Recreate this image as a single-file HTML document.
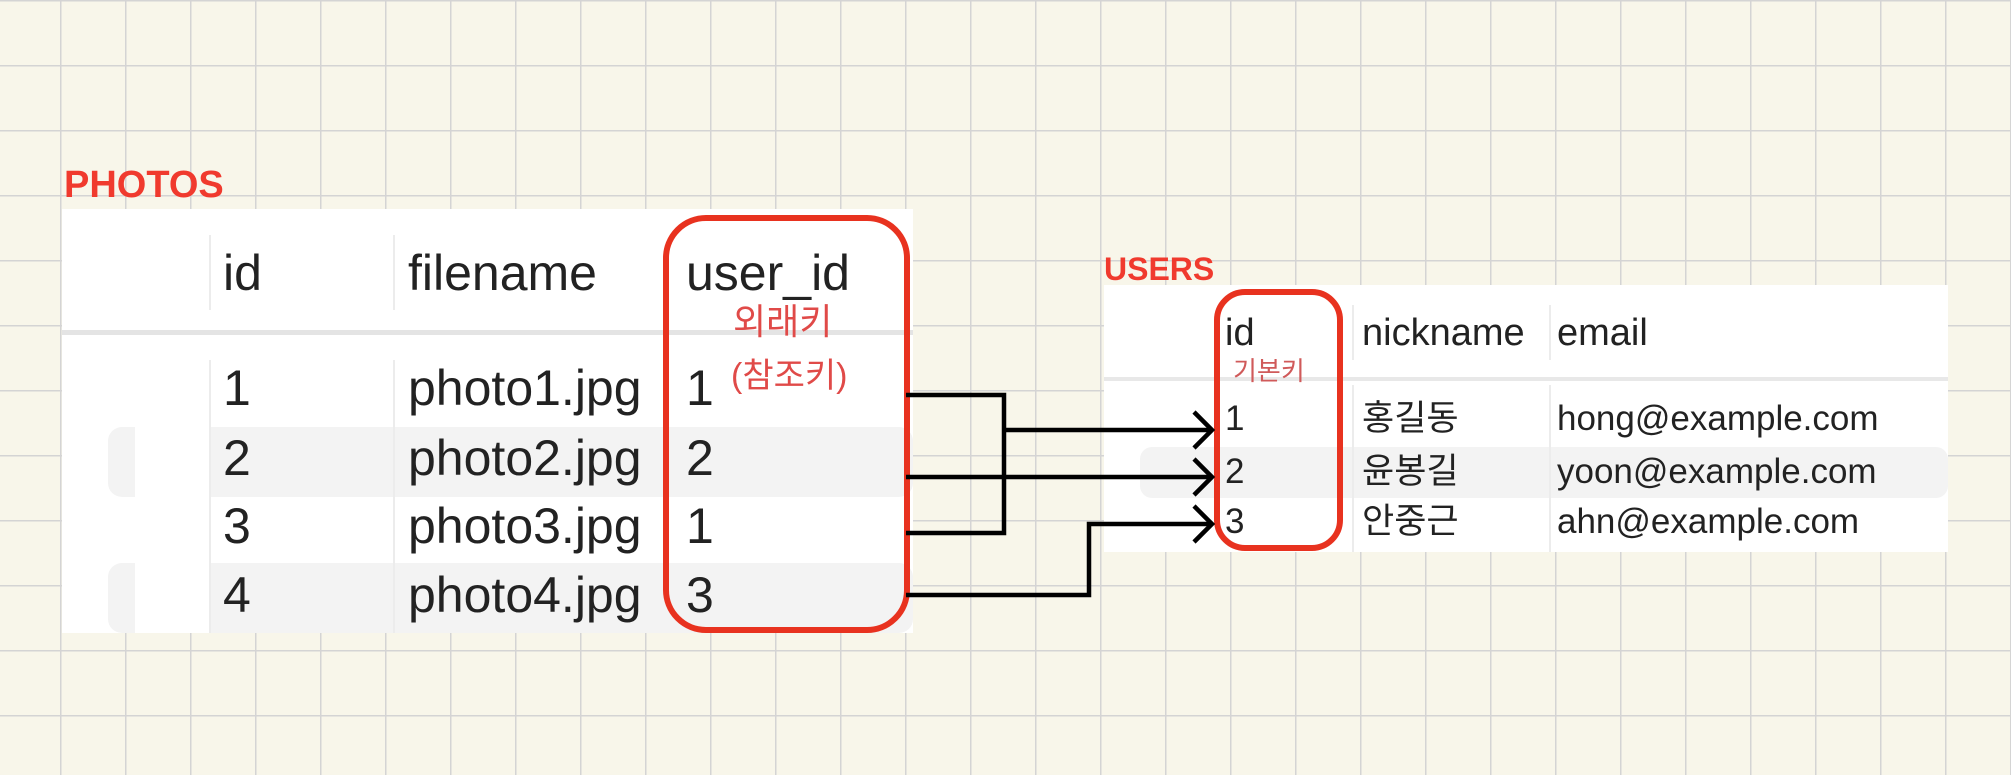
<!DOCTYPE html>
<html><head><meta charset="utf-8"><style>
html,body{margin:0;padding:0;width:2011px;height:775px;overflow:hidden;background:#f8f6ea}
svg text{font-family:"Liberation Sans","Noto Sans CJK KR",sans-serif}
</style></head><body>
<svg width="2011" height="775" viewBox="0 0 2011 775" xmlns="http://www.w3.org/2000/svg">
<defs>
<pattern id="g" x="-5" y="0" width="65" height="65" patternUnits="userSpaceOnUse">
<path d="M0 0H65M0 0V65" stroke="#d4d4d4" stroke-width="3" fill="none"/>
</pattern>
</defs>
<rect width="2011" height="775" fill="#f8f6ea"/>
<rect width="2011" height="775" fill="url(#g)"/>

<!-- PHOTOS -->
<text x="64" y="197" font-size="38" font-weight="bold" fill="#f03a2e">PHOTOS</text>
<rect x="62" y="209" width="851" height="424" fill="#fff"/>
<rect x="62" y="330" width="851" height="5" fill="#e4e4e4"/>
<rect x="108" y="427" width="805" height="70" rx="14" fill="#f3f3f3"/>
<rect x="108" y="563" width="805" height="70" rx="14" fill="#f3f3f3"/>
<rect x="135" y="427" width="75" height="70" fill="#fff"/>
<rect x="135" y="563" width="75" height="70" fill="#fff"/>
<g stroke="#ececec" stroke-width="2">
<line x1="210" y1="235" x2="210" y2="310"/><line x1="394" y1="235" x2="394" y2="310"/>
<line x1="210" y1="360" x2="210" y2="633"/><line x1="394" y1="360" x2="394" y2="633"/>
</g>
<g font-size="50" fill="#222">
<text x="223" y="290">id</text><text x="408" y="290">filename</text><text x="686" y="290">user_id</text>
<text x="223" y="405">1</text><text x="408" y="405">photo1.jpg</text><text x="686" y="405">1</text>
<text x="223" y="475">2</text><text x="408" y="475">photo2.jpg</text><text x="686" y="475">2</text>
<text x="223" y="543">3</text><text x="408" y="543">photo3.jpg</text><text x="686" y="543">1</text>
<text x="223" y="612">4</text><text x="408" y="612">photo4.jpg</text><text x="686" y="612">3</text>
</g>
<rect x="666" y="218" width="241" height="412" rx="40" fill="none" stroke="#e8321f" stroke-width="6"/>
<text x="733" y="334" font-size="36" fill="#e04a48">외래키</text>
<text x="731" y="387" font-size="34" fill="#e04a48">(참조키)</text>

<!-- USERS -->
<text x="1104" y="280" font-size="32" font-weight="bold" fill="#f03a2e">USERS</text>
<rect x="1104" y="285" width="844" height="267" fill="#fff"/>
<rect x="1104" y="377" width="844" height="4" fill="#e8e8e8"/>
<rect x="1140" y="447" width="808" height="51" rx="12" fill="#f3f3f3"/>
<g stroke="#ececec" stroke-width="2">
<line x1="1353" y1="305" x2="1353" y2="360"/><line x1="1550" y1="305" x2="1550" y2="360"/>
<line x1="1353" y1="385" x2="1353" y2="552"/><line x1="1550" y1="385" x2="1550" y2="552"/>
</g>
<g font-size="38" fill="#222">
<text x="1225" y="345">id</text><text x="1362" y="345">nickname</text><text x="1557" y="345">email</text>
</g>
<g font-size="35" fill="#222">
<text x="1225" y="430">1</text><text x="1362" y="430">홍길동</text><text x="1557" y="430">hong@example.com</text>
<text x="1225" y="483">2</text><text x="1362" y="483">윤봉길</text><text x="1557" y="483">yoon@example.com</text>
<text x="1225" y="533">3</text><text x="1362" y="533">안중근</text><text x="1557" y="533">ahn@example.com</text>
</g>
<rect x="1217" y="292" width="123" height="256" rx="28" fill="none" stroke="#e8321f" stroke-width="6"/>
<text x="1233" y="380" font-size="26" fill="#d05a5a">기본키</text>

<!-- connectors -->
<g stroke="#000" stroke-width="4.5" fill="none" stroke-linejoin="miter">
<polyline points="906,395 1004,395 1004,533 906,533"/>
<line x1="1004" y1="430" x2="1210" y2="430"/>
<line x1="906" y1="477" x2="1210" y2="477"/>
<polyline points="906,595 1089,595 1089,524 1210,524"/>
<polyline points="1194,412 1212,430 1194,448"/>
<polyline points="1194,459 1212,477 1194,495"/>
<polyline points="1194,506 1212,524 1194,542"/>
</g>
</svg>
</body></html>
